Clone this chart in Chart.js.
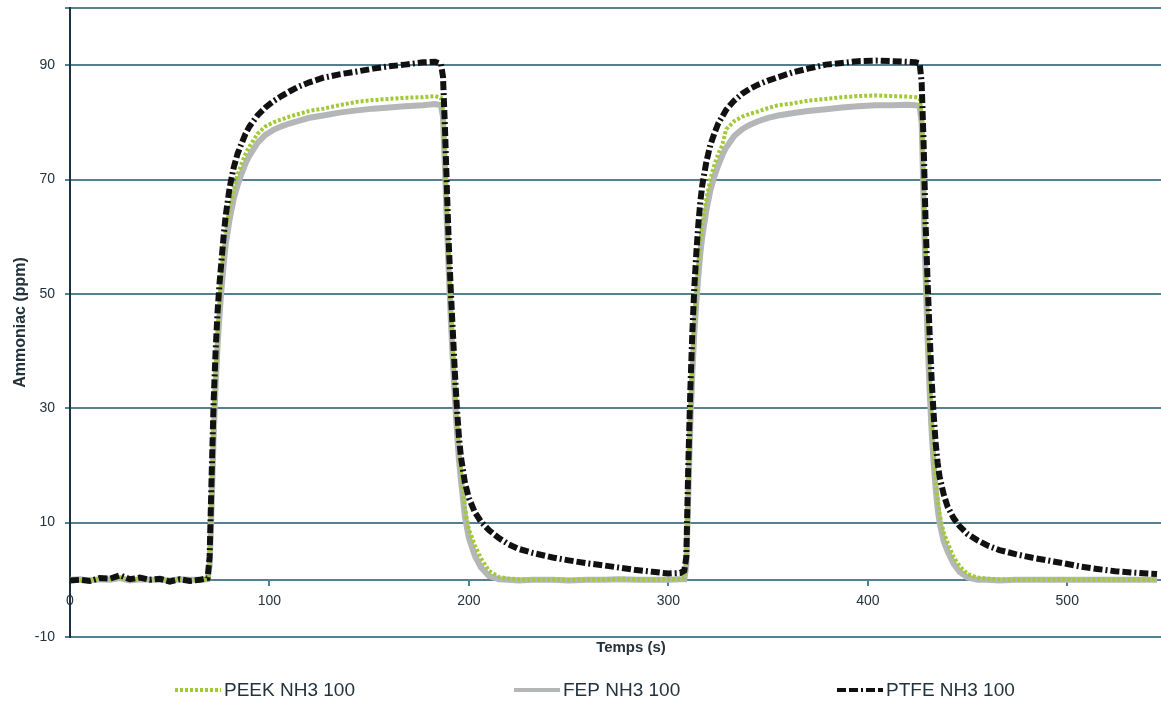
<!DOCTYPE html>
<html>
<head>
<meta charset="utf-8">
<script src="https://cdn.jsdelivr.net/npm/chart.js@4.4.1/dist/chart.umd.min.js"></script>
<style>
  body { margin: 0; background: #fff; }
  #wrap { width: 1161px; height: 706px; }
</style>
</head>
<body>
<div id="wrap"><canvas id="mycanvas"></canvas></div>
<script>
// time (s)
var times = [
  0, 5, 10, 15, 20, 25, 30, 35, 40, 45, 50, 55, 60, 65, 69,
  70, 71, 72, 73, 74, 75, 76, 77, 78, 80, 82, 84, 86, 88, 90, 94, 98, 102, 106, 110, 115, 120, 127, 135, 144, 152, 160, 168, 177, 183, 186,
  187, 188, 189, 190, 191, 192, 193, 194, 195, 196, 198, 200, 203, 206, 210, 215, 220, 225, 232, 242, 250, 259, 268, 276, 284, 292, 300, 306, 308,
  309, 310, 311, 312, 313, 314, 315, 316, 317, 319, 321, 323, 325, 327, 329, 333, 337, 341, 345, 350, 355, 362, 370, 379, 387, 395, 404, 412, 420, 424, 426,
  427, 428, 429, 430, 431, 432, 433, 434, 435, 436, 438, 440, 443, 446, 450, 455, 460, 466, 474, 482, 490, 498, 507, 515, 524, 532, 540, 545
];

var peek = [
  0.1, -0.1, 0.0, 0.2, 0.1, 0.4, 0.0, 0.2, -0.1, 0.1, -0.2, 0.0, -0.1, 0.1, 0.2,
  3, 15, 27, 36, 43, 48, 54, 58, 61, 65, 68, 70.8, 72.8, 74.5, 75.8, 78, 79.3, 80, 80.5, 81, 81.5, 82, 82.4, 83, 83.6, 83.9, 84.1, 84.3, 84.4, 84.6, 84.3,
  82, 74, 64, 55, 47, 40, 33.5, 28, 23.5, 19, 12.5, 8.8, 6, 3.8, 1.6, 0.5, 0.2, 0.1, 0.0, 0.1, 0.0, 0.0, 0.1, 0.2, 0.1, 0.0, 0.1, 0.2, 0.3,
  3, 17, 29, 38, 45, 50.5, 55, 59, 62, 66.5, 70, 72.5, 74.5, 76, 78.8, 80.2, 81, 81.5, 81.9, 82.5, 83, 83.3, 83.8, 84.1, 84.4, 84.6, 84.7, 84.6, 84.5, 84.4, 84.2,
  81, 68, 55, 44, 35, 28, 22, 17.5, 14, 11.5, 8.3, 6.5, 4, 2.4, 1.0, 0.4, 0.2, 0.1, 0.0, 0.1, 0.0, 0.1, 0.0, 0.1, 0.0, 0.1, 0.0, 0.1
];

var fep = [
  0.0, 0.1, -0.1, 0.1, 0.0, 0.3, -0.1, 0.1, 0.0, 0.0, -0.1, 0.1, 0.0, 0.0, 0.1,
  2.5, 13, 25, 34, 41, 46.5, 51, 55, 58.5, 63, 66.5, 69, 71, 72.8, 74.2, 76.4, 77.8, 78.7, 79.3, 79.8, 80.3, 80.8, 81.2, 81.7, 82.1, 82.4, 82.6, 82.8, 83, 83.2, 83,
  81, 72, 62, 53, 45, 38, 31.5, 26, 21, 17.5, 11, 7.3, 4.2, 2.2, 0.7, 0.1, 0.0, -0.1, 0.0, 0.0, -0.1, 0.0, 0.0, 0.1, 0.0, 0.0, 0.0, 0.1, 0.1,
  2.5, 15, 27, 36, 43, 48.5, 53, 57, 60, 64.5, 68, 70.5, 72.5, 74.2, 75.6, 77.6, 78.8, 79.6, 80.2, 80.8, 81.2, 81.6, 82, 82.3, 82.6, 82.8, 83, 83, 83.1, 83, 82.8,
  80, 66, 53, 42, 33, 26, 20.5, 16, 12.5, 10, 6.8, 5, 2.8, 1.4, 0.4, 0.0, 0.0, -0.1, 0.0, 0.0, 0.0, 0.0, 0.0, 0.0, 0.0, 0.0, 0.0, 0.0
];

var ptfe = [
  -0.1, 0.0, -0.2, 0.3, 0.2, 0.8, 0.1, 0.4, 0.0, 0.2, -0.3, 0.1, -0.2, 0.0, 0.3,
  4, 18, 31, 40, 47, 52, 56, 60, 63.5, 68.5, 72, 74.5, 76.3, 78, 79.3, 81.2, 82.6, 83.7, 84.6, 85.4, 86.3, 87, 87.8, 88.4, 88.9, 89.4, 89.8, 90.1, 90.5, 90.6, 90.2,
  88, 79, 68, 58, 50, 43, 36, 30, 25, 21.5, 17, 14.3, 11.8, 10.2, 8.7, 7.3, 6.2, 5.4, 4.7, 3.9, 3.4, 2.9, 2.5, 2.1, 1.7, 1.4, 1.1, 1.2, 1.6,
  4, 20, 33, 43, 51, 57, 62, 66, 69, 73, 76, 78, 79.8, 81, 82.2, 83.8, 85, 85.9, 86.6, 87.3, 87.9, 88.7, 89.4, 90.1, 90.4, 90.7, 90.8, 90.7, 90.6, 90.5, 90.3,
  87, 76, 62, 52, 43, 35, 29, 24, 20.5, 18, 15, 12.8, 10.8, 9.4, 8, 6.9, 6.0, 5.2, 4.5, 3.9, 3.4, 2.9, 2.3, 1.9, 1.5, 1.3, 1.1, 1.0
];

var seriesNames = ['PEEK NH3 100', 'FEP NH3 100', 'PTFE NH3 100'];
var xTicks = [0, 100, 200, 300, 400, 500];
var yTicks = [-10, 10, 30, 50, 70, 90, 100];
var xTitle = 'Temps (s)';
var yTitle = 'Ammoniac (ppm)';

var gridColor = '#55808f';
var textColor = '#23323c';
var fontFamily = '"Liberation Sans", Arial, sans-serif';

function pairs(vals) {
  return times.map(function(t, i) { return {x: t, y: vals[i]}; });
}

// legend + x title drawn under the plot
var extras = {
  id: 'extras',
  afterDraw: function(chart) {
    var ctx = chart.ctx;
    var area = chart.chartArea;
    var legendLeft = [175, 514, 837];
    ctx.save();
    ctx.fillStyle = textColor;
    ctx.font = 'bold 15px ' + fontFamily;
    ctx.textAlign = 'center';
    ctx.textBaseline = 'middle';
    ctx.fillText(xTitle, 631, area.bottom + 11);

    ctx.font = '19px ' + fontFamily;
    ctx.textAlign = 'left';
    chart.data.datasets.forEach(function(ds, i) {
      var x = legendLeft[i];
      var y = 690;
      ctx.save();
      ctx.strokeStyle = ds.borderColor;
      ctx.lineWidth = 4;
      ctx.setLineDash(ds.borderDash || []);
      ctx.beginPath();
      ctx.moveTo(x, y);
      ctx.lineTo(x + 46, y);
      ctx.stroke();
      ctx.restore();
      ctx.fillText(ds.label, x + 49, y + 1);
    });
    ctx.restore();
  }
};

var ctx = document.getElementById('mycanvas').getContext('2d');
var chart = new Chart(ctx, {
  type: 'line',
  data: {
    datasets: [
      {
        label: seriesNames[0],
        data: pairs(peek),
        borderColor: '#a2c936',
        borderWidth: 4,
        borderDash: [3, 2],
        pointRadius: 0,
        order: 1
      },
      {
        label: seriesNames[1],
        data: pairs(fep),
        borderColor: '#b4b6b8',
        borderWidth: 6,
        pointRadius: 0,
        order: 2
      },
      {
        label: seriesNames[2],
        data: pairs(ptfe),
        borderColor: '#111111',
        borderWidth: 6,
        borderDash: [9, 3, 9, 3, 2, 3],
        pointRadius: 0,
        order: 0
      }
    ]
  },
  plugins: [extras],
  options: {
    responsive: true,
    maintainAspectRatio: false,
    animation: false,
    layout: { padding: { top: 0, left: 0, right: 0, bottom: 69 } },
    plugins: {
      legend: { display: false },
      tooltip: { enabled: false }
    },
    scales: {
      x: {
        type: 'linear',
        position: { y: 0 },
        min: 0,
        max: 547,
        afterBuildTicks: function(s) { s.ticks = xTicks.map(function(v) { return {value: v}; }); },
        grid: { drawOnChartArea: false, drawTicks: true, tickLength: 5, color: gridColor, lineWidth: 2 },
        border: { display: true, color: gridColor, width: 2 },
        ticks: { color: textColor, font: { size: 14, family: fontFamily }, padding: 8, maxRotation: 0 }
      },
      y: {
        type: 'linear',
        min: -10,
        max: 100,
        afterBuildTicks: function(s) { s.ticks = yTicks.map(function(v) { return {value: v}; }); },
        afterFit: function(s) { s.width = 70; s.paddingTop = 8; },
        grid: { color: gridColor, lineWidth: 2, tickLength: 5 },
        border: { display: true, color: '#1d3240', width: 2 },
        ticks: {
          color: textColor,
          font: { size: 14, family: fontFamily },
          padding: 10,
          callback: function(v) { return v === 100 ? '' : v; }
        },
        title: {
          display: true,
          text: yTitle,
          color: textColor,
          font: { size: 16, weight: 'bold', family: fontFamily },
          padding: { top: 11, bottom: 0 }
        }
      }
    }
  }
});
</script>
</body>
</html>
